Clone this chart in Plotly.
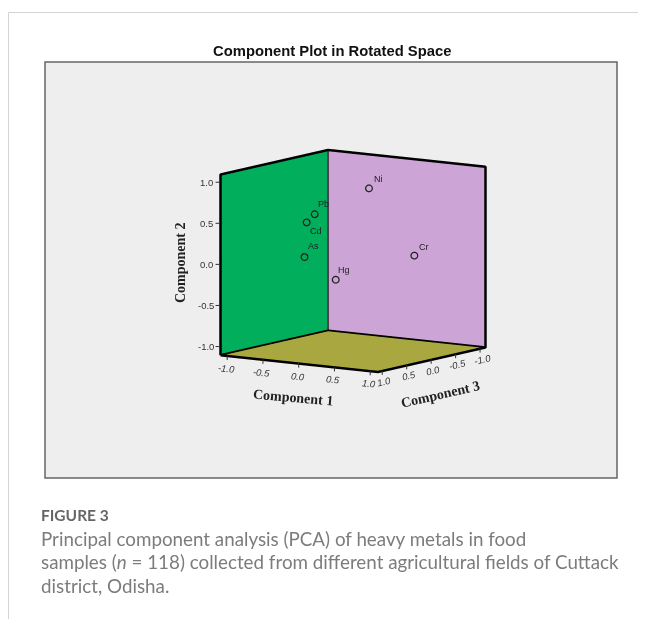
import plotly.graph_objects as go

# Data
metals = ["As", "Cd", "Pb", "Ni", "Cr", "Hg"]
component_1 = [-0.10, -0.07, -0.06, 0.20, 0.80, 0.20]
component_2 = [0.155, 0.58, 0.66, 0.90, 0.13, -0.12]
component_3 = [0.85, 0.85, 0.70, -0.03, -0.08, 0.65]
label_shift_x = [10, 10, 10, 10, 10, 9]
label_shift_y = [10, -9, 10, 9, 8, 9]
tick_values = [-1.0, -0.5, 0.0, 0.5, 1.0]
tick_labels = ["-1.0", "-0.5", "0.0", "0.5", "1.0"]
LIM = 1.1

caption_head = "FIGURE 3"
caption_lines = [
    "Principal component analysis (PCA) of heavy metals in food",
    "samples (<i>n</i> = 118) collected from different agricultural fields of Cuttack",
    "district, Odisha.",
]

# The page has an 8 px body margin, so the figure is 8 px smaller and everything is offset.
OFF = 8
W, H = 646 - OFF, 619 - OFF
def px(x):
    return (x - OFF) / W
def py(y):
    return 1 - (y - OFF) / H

fig = go.Figure()

# wall and floor outlines (comp 3 axis is reversed: left corner is +LIM, back corner is -LIM)
edge_x = [-LIM, -LIM, -LIM, LIM, LIM, LIM, -LIM, -LIM, None, -LIM, -LIM, LIM, None, -LIM, -LIM]
edge_y = [LIM, LIM, -LIM, -LIM, -LIM, LIM, LIM, LIM, None, LIM, -LIM, -LIM, None, -LIM, -LIM]
edge_z = [-LIM, LIM, LIM, LIM, -LIM, -LIM, -LIM, -LIM, None, -LIM, -LIM, -LIM, None, -LIM, LIM]
fig.add_trace(go.Scatter3d(x=edge_x, y=edge_y, z=edge_z, mode="lines",
                           line=dict(color="black", width=5), hoverinfo="skip", showlegend=False))

fig.add_trace(go.Scatter3d(
    x=component_1, y=component_3, z=component_2, mode="markers",
    hovertext=metals,
    marker=dict(symbol="circle-open", size=4.2, color="#222222", line=dict(color="#222222", width=1.2)),
    showlegend=False))

axis_common = dict(
    tickvals=tick_values, ticktext=tick_labels, showgrid=False, zeroline=False,
    showline=False, ticks="", showticklabels=False,
    showspikes=False, title=dict(text=""), showbackground=True,
)
serif = dict(family="Liberation Serif", size=14, color="#222222", weight="bold")
tick_font = dict(family="Liberation Sans", size=9.5, color="#333333")
floor_font = dict(family="Liberation Sans", size=9.5, color="#333333", style="italic")
label_font = dict(family="Liberation Sans", size=9, color="#222222")
tick_mark = dict(text="", showarrow=True, arrowhead=0, arrowwidth=1, arrowcolor="#333333", standoff=0)

scene_annotations = []
for value, label in zip(tick_values, tick_labels):
    scene_annotations.append(dict(x=-LIM, y=LIM, z=value, text=label, showarrow=False,
                                  xshift=-14, font=tick_font))
    scene_annotations.append(dict(x=value, y=LIM, z=-LIM, text=label, showarrow=False,
                                  xshift=-1, yshift=-13, textangle=6, font=floor_font))
    scene_annotations.append(dict(x=LIM, y=value, z=-LIM, text=label, showarrow=False,
                                  xshift=2, yshift=-11, textangle=-13, font=floor_font))
    scene_annotations.append(dict(tick_mark, x=-LIM, y=LIM, z=value, ax=-6, ay=0))
    scene_annotations.append(dict(tick_mark, x=value, y=LIM, z=-LIM, ax=0, ay=6))
    scene_annotations.append(dict(tick_mark, x=LIM, y=value, z=-LIM, ax=0, ay=6))
for name, c1, c2, c3, sx, sy in zip(metals, component_1, component_2, component_3, label_shift_x, label_shift_y):
    scene_annotations.append(dict(x=c1, y=c3, z=c2, text=name, showarrow=False,
                                  xshift=sx, yshift=sy, font=label_font))

cx, cy, sw, sh = 352.5, 260.5, 500, 400
zoom = 0.953

fig.update_layout(
    width=W, height=H, margin=dict(l=0, r=0, t=0, b=0),
    autosize=False, paper_bgcolor="white", showlegend=False,
    scene=dict(
        domain=dict(x=[px(cx - sw / 2), px(cx + sw / 2)],
                    y=[py(cy + sh / 2), py(cy - sh / 2)]),
        bgcolor="rgba(0,0,0,0)",
        aspectmode="manual", aspectratio=dict(x=zoom, y=zoom, z=0.96 * zoom),
        xaxis=dict(axis_common, range=[-LIM, LIM], backgroundcolor="#00AE5B"),
        yaxis=dict(axis_common, range=[LIM, -LIM], backgroundcolor="#CCA4D6"),
        zaxis=dict(axis_common, range=[-LIM, LIM], backgroundcolor="#A9A840"),
        annotations=scene_annotations,
        camera=dict(projection=dict(type="orthographic"),
                    up=dict(x=0, y=0, z=1), center=dict(x=0, y=0, z=0),
                    eye=dict(x=0.558 * 2, y=-0.816 * 2, z=0.156 * 2)),
    ),
    shapes=[
        dict(type="rect", xref="paper", yref="paper", layer="below",
             x0=px(45), x1=px(617), y0=py(478), y1=py(62),
             fillcolor="#eeeeee", line=dict(color="#666666", width=1.5)),
        dict(type="line", xref="paper", yref="paper", layer="below",
             x0=px(8.5), x1=1, y0=py(12.5), y1=py(12.5), line=dict(color="#d4d4d4", width=1)),
        dict(type="line", xref="paper", yref="paper", layer="below",
             x0=px(8.5), x1=px(8.5), y0=0, y1=py(12.5), line=dict(color="#d4d4d4", width=1)),
    ],
    annotations=[
        dict(text="Component Plot in Rotated Space", x=px(331.5), y=py(51), xref="paper", yref="paper",
             xanchor="center", yanchor="middle", showarrow=False,
             font=dict(family="Liberation Sans", size=14.8, color="#111111", weight="bold")),
        dict(text="Component 2", x=px(180), y=py(263), xref="paper", yref="paper", textangle=-90,
             xanchor="center", yanchor="middle", showarrow=False, font=serif),
        dict(text="Component 1", x=px(293), y=py(397), xref="paper", yref="paper", textangle=5,
             xanchor="center", yanchor="middle", showarrow=False, font=serif),
        dict(text="Component 3", x=px(440), y=py(394), xref="paper", yref="paper", textangle=-13,
             xanchor="center", yanchor="middle", showarrow=False, font=serif),
        dict(text=caption_head, x=px(39), y=py(515), xref="paper", yref="paper", xanchor="left",
             yanchor="middle", showarrow=False,
             font=dict(family="Lato", size=15.5, color="#666666", weight="bold")),
    ] + [
        dict(text=line, x=px(39), y=py(538 + 23.5 * i), xref="paper", yref="paper", xanchor="left",
             yanchor="middle", showarrow=False, font=dict(family="Lato", size=18.8, color="#7c7c7c"))
        for i, line in enumerate(caption_lines)
    ],
)
fig.write_html("out.html")
